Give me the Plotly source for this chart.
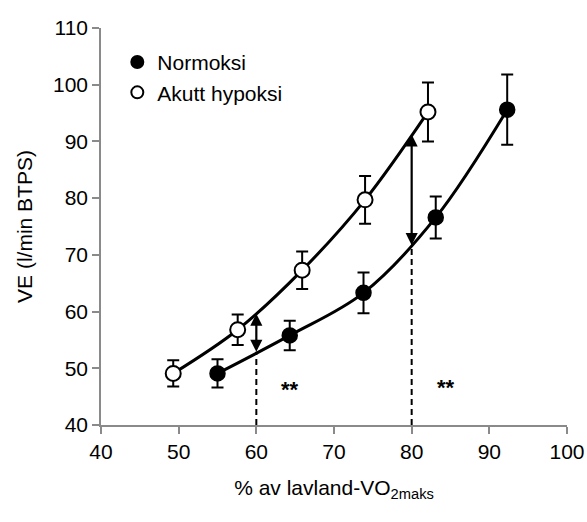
import plotly.graph_objects as go

# Ventilation vs. relative exercise intensity, mean ± SD
norm_x = [55.0, 64.3, 73.8, 83.1, 92.3]
norm_y = [49.1, 55.8, 63.3, 76.6, 95.6]
norm_err = [2.5, 2.6, 3.6, 3.7, 6.2]

hyp_x = [49.3, 57.6, 65.9, 74.0, 82.1]
hyp_y = [49.1, 56.8, 67.3, 79.7, 95.2]
hyp_err = [2.3, 2.7, 3.3, 4.2, 5.2]

# Differences marked at 60 % and 80 % of VO2max
diff_x = [60, 80]
diff_top = [59.9, 91.5]
diff_bottom = [52.9, 71.7]
sig_x = [64.3, 84.4]
sig_y = [46.2, 46.6]
sig_text = ["**", "**"]

x_ticks = [40, 50, 60, 70, 80, 90, 100]
y_ticks = [40, 50, 60, 70, 80, 90, 100, 110]

FONT = "Liberation Sans, Arial, sans-serif"
AXIS_GREY = "#8a8a8a"

fig = go.Figure()

# Dashed guides from the x-axis up to the normoxia curve
for xv, yb in zip(diff_x, diff_bottom):
    fig.add_trace(go.Scatter(
        x=[xv, xv], y=[40, yb], mode="lines",
        line=dict(color="black", width=2, dash="6px,4px"),
        showlegend=False, hoverinfo="skip"))

# Smoothed curves
for xs, ys in ((norm_x, norm_y), (hyp_x, hyp_y)):
    fig.add_trace(go.Scatter(
        x=xs, y=ys, mode="lines",
        line=dict(color="black", width=3, shape="spline", smoothing=1),
        showlegend=False, hoverinfo="skip"))

# Markers with error bars
fig.add_trace(go.Scatter(
    x=norm_x, y=norm_y, mode="markers", name="Normoksi",
    marker=dict(symbol="circle", size=15, color="black",
                line=dict(color="black", width=1.5)),
    error_y=dict(type="data", array=norm_err, visible=True,
                 color="black", thickness=2, width=6)))
fig.add_trace(go.Scatter(
    x=hyp_x, y=hyp_y, mode="markers", name="Akutt hypoksi",
    marker=dict(symbol="circle", size=15, color="white",
                line=dict(color="black", width=2)),
    error_y=dict(type="data", array=hyp_err, visible=True,
                 color="black", thickness=2, width=6)))

# Double-headed arrows between the curves
for xv, yt, yb in zip(diff_x, diff_top, diff_bottom):
    fig.add_annotation(
        x=xv, y=yb, ax=xv, ay=yt, xref="x", yref="y", axref="x", ayref="y",
        text="", showarrow=True, arrowhead=2, startarrowhead=2,
        arrowside="end+start", arrowsize=1.1, startarrowsize=1.1,
        arrowwidth=2.2, arrowcolor="black", standoff=0, startstandoff=0)

for xv, yv, t in zip(sig_x, sig_y, sig_text):
    fig.add_annotation(x=xv, y=yv, xref="x", yref="y", text=f"<b>{t}</b>",
                       showarrow=False,
                       font=dict(family=FONT, size=22, color="black"))

fig.update_layout(
    width=587, height=522,
    margin=dict(l=101, r=20, t=28, b=97),
    paper_bgcolor="white", plot_bgcolor="white",
    font=dict(family=FONT, size=21, color="black"),
    legend=dict(x=0.035, y=0.965, xanchor="left", yanchor="top",
                bgcolor="rgba(0,0,0,0)", itemwidth=30,
                itemsizing="constant",
                font=dict(family=FONT, size=21, color="black")),
    xaxis=dict(range=[40, 100], tickvals=x_ticks, showgrid=False,
               zeroline=False, showline=True, linecolor=AXIS_GREY,
               linewidth=1.5, ticks="outside", ticklen=7,
               tickcolor=AXIS_GREY, tickwidth=1.5, automargin=False,
               tickfont=dict(family=FONT, size=21, color="black"),
               title=dict(text="% av lavland-VO<sub>2maks</sub>",
                          font=dict(family=FONT, size=21, color="black"),
                          standoff=18)),
    yaxis=dict(range=[40, 110], tickvals=y_ticks, showgrid=False,
               zeroline=False, showline=True, linecolor=AXIS_GREY,
               linewidth=1.5, ticks="outside", ticklen=7,
               tickcolor=AXIS_GREY, tickwidth=1.5,
               tickfont=dict(family=FONT, size=21, color="black"),
               title=dict(text="VE (l/min BTPS)",
                          font=dict(family=FONT, size=21, color="black"),
                          standoff=15)),
)

fig.write_html("out.html")
